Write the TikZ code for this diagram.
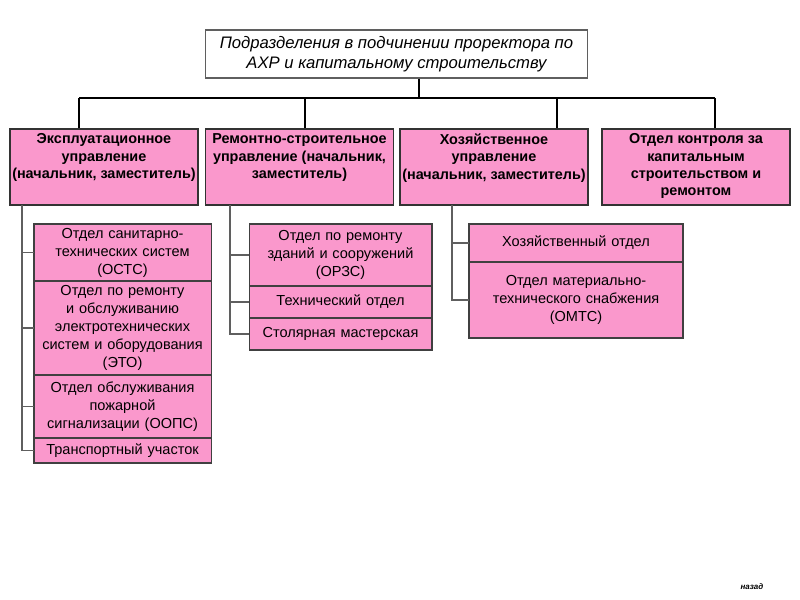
\documentclass[tikz,border=0pt]{standalone}
\usepackage{fontspec}
\setmainfont{Liberation Sans}
\usetikzlibrary{positioning}
\definecolor{boxpink}{RGB}{250,152,204}
\definecolor{linegray}{RGB}{95,95,95}

\begin{document}
\begin{tikzpicture}[x=0.75pt,y=-0.75pt,
    head/.style={draw=linegray,fill=white,line width=0.8pt,minimum width=287pt,minimum height=36pt,
      align=center,font=\itshape\fontsize{12.5}{15}\selectfont},
    dept/.style={draw=black!80,line width=1.2pt,fill=boxpink,minimum width=141pt,minimum height=57pt},
    depttext/.style={align=center,inner sep=0pt,font=\bfseries\fontsize{10.8}{13}\selectfont},
    unit/.style={draw=black!75,line width=1pt,fill=boxpink,align=center,inner sep=0pt,outer sep=0pt,
      font=\fontsize{10.9}{13.5}\selectfont},
    bus/.style={line width=1.5pt},
    spine/.style={draw=linegray,line width=0.9pt}]
  \useasboundingbox (0,0) rectangle (800,600);

  \node[head] (top) at (396.5,54) {Подразделения в подчинении проректора по\\АХР и капитальному строительству};

  % second level
  \node[dept] (a1) at (104,167) {};
  \node[dept] (a2) at (299.5,167) {};
  \node[dept] (a3) at (494,167) {};
  \node[dept] (a4) at (696,167) {};
  \node[depttext,below=4pt] (t1) at (a1.north) {Эксплуатационное\\управление\\(начальник, заместитель)};
  \node[depttext,below=4pt] (t2) at (a2.north) {Ремонтно-строительное\\управление (начальник,\\заместитель)};
  \node[depttext,below=4pt] (t3) at (a3.north) {Хозяйственное\\управление\\(начальник, заместитель)};
  \node[depttext,below=4pt] (t4) at (a4.north) {Отдел контроля за\\капитальным\\строительством и\\ремонтом};

  \coordinate (bus) at (419,98);
  \coordinate (d1) at (79,98);
  \coordinate (d2) at (305,98);
  \coordinate (d3) at (557,98);
  \coordinate (d4) at (715,98);
  \draw[bus] (top.south -| bus) -- (bus);
  \draw[bus] (d1) -- (d4);
  \foreach \d/\a in {d1/a1,d2/a2,d3/a3,d4/a4}
    \draw[bus] (\d) -- (\d |- \a.north);

  % first column
  \node[unit,text width=133pt,minimum height=42.75pt,anchor=north] (s11) at (122.5,224)
    {Отдел санитарно-\\технических систем\\(ОСТС)};
  \node[unit,text width=133pt,minimum height=70.5pt,below=0pt of s11] (s12)
    {Отдел по ремонту\\и обслуживанию\\электротехнических\\систем и оборудования\\(ЭТО)};
  \node[unit,text width=133pt,minimum height=47.25pt,below=0pt of s12] (s13)
    {Отдел обслуживания\\пожарной\\сигнализации (ООПС)};
  \node[unit,text width=133pt,minimum height=18.75pt,below=0pt of s13] (s14)
    {Транспортный участок};

  % second column
  \node[unit,text width=137pt,minimum height=46.5pt,anchor=north] (s21) at (340.5,224)
    {Отдел по ремонту\\зданий и сооружений\\(ОРЗС)};
  \node[unit,text width=137pt,minimum height=24pt,below=0pt of s21] (s22) {Технический отдел};
  \node[unit,text width=137pt,minimum height=24pt,below=0pt of s22] (s23) {Столярная мастерская};

  % third column
  \node[unit,text width=160.5pt,minimum height=28.5pt,anchor=north] (s31) at (576,224)
    {Хозяйственный отдел};
  \node[unit,text width=160.5pt,minimum height=57pt,below=0pt of s31] (s32)
    {Отдел материально-\\технического снабжения\\(ОМТС)};

  \coordinate (c1) at (22,205);
  \coordinate (c2) at (230,205);
  \coordinate (c3) at (452,205);
  \draw[spine] (c1) |- (s14.west);
  \foreach \n in {s11,s12,s13}
    \draw[spine] (\n.west -| c1) -- (\n.west);
  \draw[spine] (c2) |- (s23.west);
  \foreach \n in {s21,s22}
    \draw[spine] (\n.west -| c2) -- (\n.west);
  \draw[spine] (c3) |- (s32.west);
  \draw[spine] (s31.west -| c3) -- (s31.west);

  \node[font=\bfseries\itshape\fontsize{6}{7}\selectfont] (back) at (752,587) {назад};
\end{tikzpicture}
\end{document}
